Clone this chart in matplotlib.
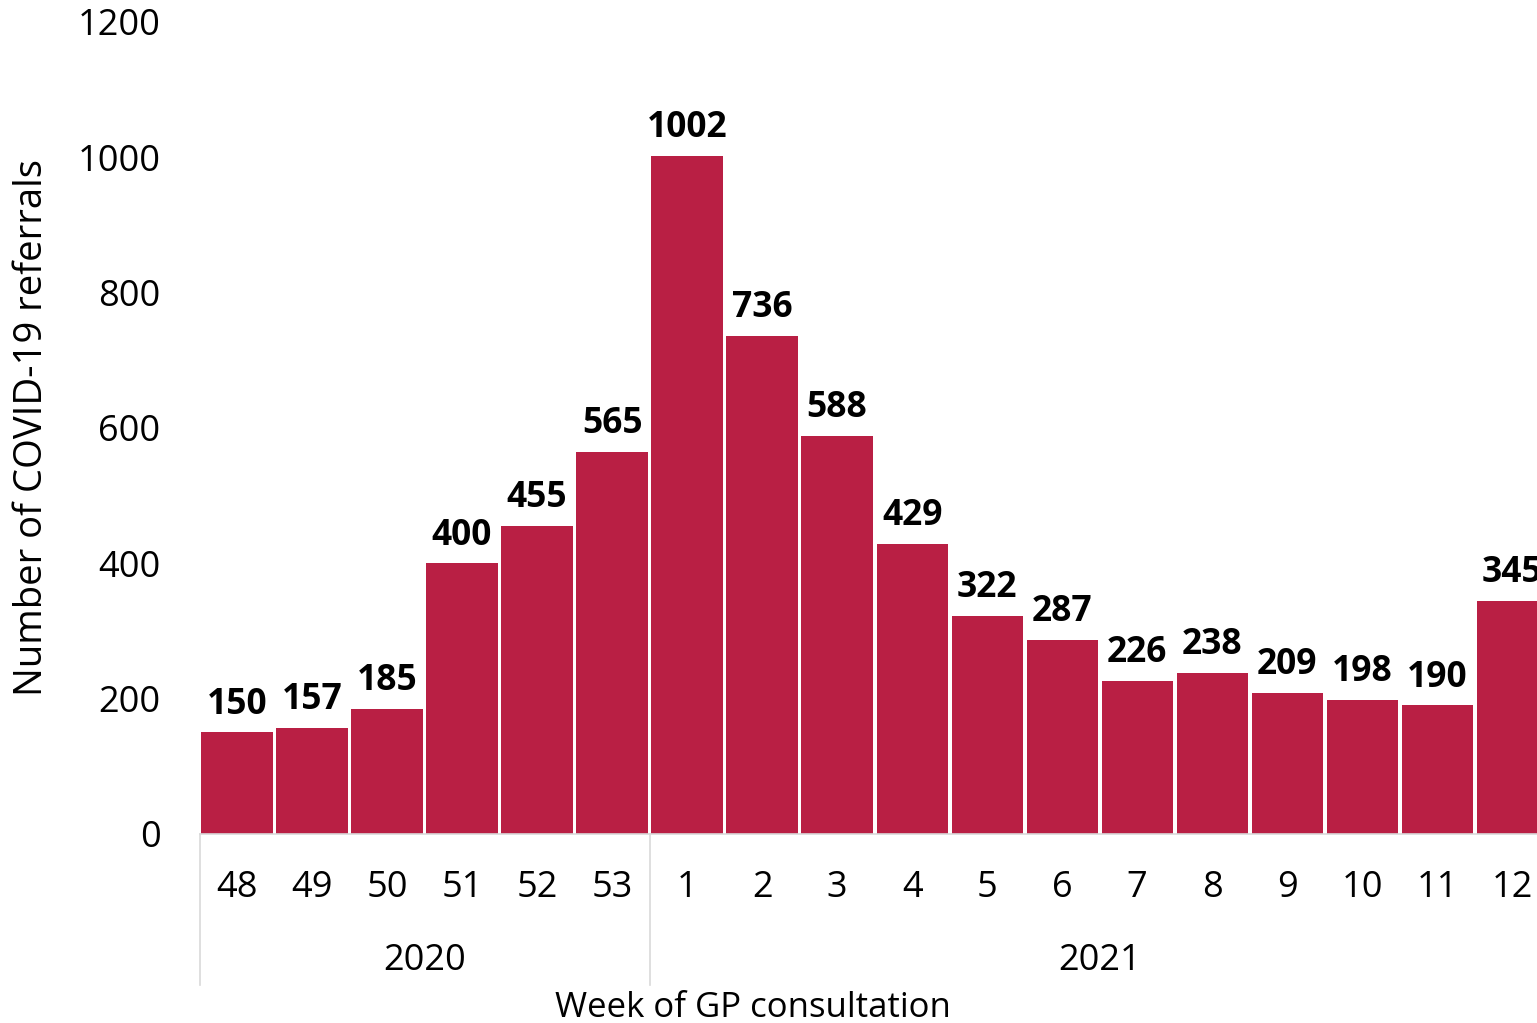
import matplotlib
matplotlib.use('Agg')
import matplotlib.pyplot as plt
import numpy as np

# weekly referral counts
weeks = ['48', '49', '50', '51', '52', '53', '1', '2', '3', '4', '5', '6', '7', '8', '9', '10', '11', '12']
referrals = [150, 157, 185, 400, 455, 565, 1002, 736, 588, 429, 322, 287, 226, 238, 209, 198, 190, 345]
years = ['2020', '2021']
year_counts = [6, 12]  # number of weeks in each year group

BAR = '#B91F44'
GRID = '#D9D9D9'

plt.rcParams['font.family'] = ['Open Sans', 'DejaVu Sans']

fig = plt.figure(figsize=(15.37, 10.23), dpi=100)
ax = fig.add_axes([0.1298, 0.1848, 0.8702, 0.7937])

xpos = np.arange(len(weeks))
bars = ax.bar(xpos, referrals, width=0.95, color=BAR, zorder=2)

# value labels on top of bars
for x, v in zip(xpos, referrals):
    ax.annotate(str(v), (x, v), xytext=(0, 7), textcoords='offset points',
                ha='center', va='bottom', fontsize=25.5, fontweight='bold', color='black',
                annotation_clip=False)

ax.set_xlim(-0.5, 17.33)
ax.set_ylim(0, 1200)
ax.set_yticks(range(0, 1201, 200))
ax.tick_params(axis='y', length=0, pad=28, labelsize=26)

ax.set_xticks(xpos)
ax.set_xticklabels(weeks)
ax.tick_params(axis='x', length=0, pad=39, labelsize=26)
for lbl in ax.get_xticklabels():
    lbl.set_va('center')

for s in ['top', 'right', 'left']:
    ax.spines[s].set_visible(False)
ax.spines['bottom'].set_color(GRID)
ax.spines['bottom'].set_linewidth(1.2)

# year group labels and separators
trans = ax.get_xaxis_transform()
start = -0.5
for yr, n in zip(years, year_counts):
    ax.plot([start, start], [0, -0.186], transform=trans, color=GRID, lw=1.2, clip_on=False)
    ax.text(start + n / 2, -0.156, yr, transform=trans, ha='center', va='center', fontsize=26)
    start += n

ax.text(6.88, -0.214, 'Week of GP consultation', transform=trans, ha='center', va='center', fontsize=25)
ax.text(-0.1252, 0.5, 'Number of COVID-19 referrals', transform=ax.transAxes, rotation=90,
        ha='center', va='center', fontsize=27.5)

fig.savefig('out.png', dpi=100)
